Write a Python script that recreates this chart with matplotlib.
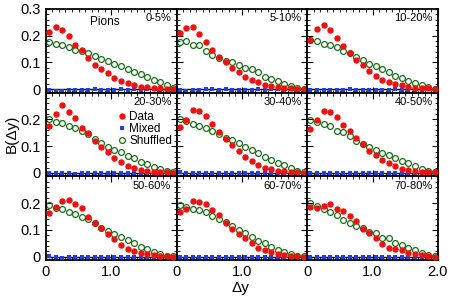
import numpy as np
import matplotlib.pyplot as plt
from matplotlib.ticker import MultipleLocator, FixedLocator, FixedFormatter

plt.rcParams['font.family'] = ['Liberation Sans', 'DejaVu Sans']

dy = [0.05, 0.15, 0.25, 0.35, 0.45, 0.55, 0.65, 0.75, 0.85, 0.95,
      1.05, 1.15, 1.25, 1.35, 1.45, 1.55, 1.65, 1.75, 1.85, 1.95]

labels = ["0-5%", "5-10%", "10-20%", "20-30%", "30-40%", "40-50%",
          "50-60%", "60-70%", "70-80%"]

data = [
    [0.214, 0.232, 0.222, 0.197, 0.167, 0.145, 0.117, 0.092, 0.076, 0.060,
     0.041, 0.029, 0.024, 0.015, 0.010, 0.007, 0.005, 0.004, 0.001, 0.001],
    [0.210, 0.229, 0.232, 0.207, 0.176, 0.147, 0.122, 0.101, 0.079, 0.066,
     0.045, 0.035, 0.026, 0.017, 0.011, 0.007, 0.006, 0.005, 0.002, 0.001],
    [0.185, 0.226, 0.241, 0.220, 0.192, 0.161, 0.135, 0.110, 0.089, 0.067,
     0.049, 0.035, 0.026, 0.020, 0.014, 0.010, 0.006, 0.005, 0.004, 0.002],
    [0.174, 0.219, 0.253, 0.227, 0.204, 0.169, 0.151, 0.119, 0.096, 0.078,
     0.055, 0.040, 0.027, 0.018, 0.012, 0.008, 0.005, 0.004, 0.003, 0.001],
    [0.171, 0.198, 0.236, 0.231, 0.214, 0.184, 0.154, 0.126, 0.106, 0.081,
     0.060, 0.044, 0.029, 0.020, 0.013, 0.009, 0.006, 0.005, 0.003, 0.001],
    [0.165, 0.197, 0.232, 0.226, 0.210, 0.181, 0.155, 0.132, 0.110, 0.083,
     0.068, 0.048, 0.038, 0.025, 0.016, 0.012, 0.006, 0.005, 0.004, 0.003],
    [0.164, 0.185, 0.209, 0.213, 0.197, 0.181, 0.149, 0.127, 0.107, 0.085,
     0.065, 0.043, 0.030, 0.022, 0.015, 0.009, 0.005, 0.003, 0.001, 0.000],
    [0.168, 0.179, 0.208, 0.205, 0.198, 0.175, 0.155, 0.127, 0.104, 0.086,
     0.069, 0.052, 0.034, 0.024, 0.018, 0.011, 0.008, 0.004, 0.001, 0.000],
    [0.186, 0.183, 0.190, 0.197, 0.180, 0.171, 0.152, 0.132, 0.103, 0.090,
     0.069, 0.047, 0.034, 0.028, 0.024, 0.015, 0.009, 0.005, 0.001, 0.000],
]

shuffled = [
    [0.176, 0.170, 0.164, 0.158, 0.148, 0.142, 0.135, 0.124, 0.114, 0.104,
     0.095, 0.086, 0.076, 0.066, 0.055, 0.045, 0.035, 0.026, 0.014, 0.005],
    [0.176, 0.182, 0.166, 0.164, 0.141, 0.129, 0.117, 0.107, 0.101, 0.092,
     0.079, 0.074, 0.064, 0.047, 0.037, 0.029, 0.020, 0.011, 0.005, 0.001],
    [0.185, 0.180, 0.170, 0.166, 0.157, 0.142, 0.135, 0.122, 0.110, 0.095,
     0.085, 0.076, 0.064, 0.051, 0.042, 0.032, 0.022, 0.014, 0.007, 0.002],
    [0.200, 0.191, 0.187, 0.175, 0.168, 0.158, 0.145, 0.126, 0.113, 0.097,
     0.087, 0.077, 0.065, 0.055, 0.042, 0.032, 0.022, 0.013, 0.006, 0.003],
    [0.200, 0.195, 0.184, 0.174, 0.168, 0.155, 0.145, 0.132, 0.123, 0.113,
     0.097, 0.087, 0.074, 0.061, 0.048, 0.038, 0.029, 0.018, 0.009, 0.003],
    [0.197, 0.191, 0.182, 0.174, 0.156, 0.152, 0.139, 0.119, 0.109, 0.097,
     0.087, 0.074, 0.068, 0.055, 0.045, 0.038, 0.025, 0.016, 0.006, 0.003],
    [0.192, 0.183, 0.177, 0.168, 0.158, 0.149, 0.139, 0.126, 0.107, 0.097,
     0.085, 0.075, 0.062, 0.050, 0.037, 0.027, 0.017, 0.009, 0.004, 0.001],
    [0.193, 0.187, 0.179, 0.173, 0.166, 0.152, 0.141, 0.129, 0.113, 0.101,
     0.088, 0.075, 0.059, 0.050, 0.037, 0.024, 0.018, 0.009, 0.004, 0.001],
    [0.199, 0.190, 0.177, 0.167, 0.154, 0.136, 0.126, 0.113, 0.107, 0.094,
     0.088, 0.069, 0.069, 0.050, 0.043, 0.031, 0.024, 0.014, 0.005, 0.001],
]

mixed = [
    [-0.004, -0.007, -0.006, -0.002, -0.004, -0.003, -0.003, -0.001, -0.002, -0.002,
     -0.002, -0.001, -0.002, -0.001, -0.002, -0.001, -0.001, -0.002, -0.001, -0.001],
    [-0.004, -0.006, -0.004, -0.004, -0.001, -0.001, -0.002, -0.001, -0.002, -0.002,
     -0.002, -0.002, -0.001, -0.002, -0.001, -0.001, -0.002, -0.001, -0.001, -0.001],
    [-0.004, -0.002, -0.004, -0.002, -0.002, -0.003, -0.001, -0.003, -0.002, -0.002,
     -0.002, -0.002, -0.002, -0.001, -0.002, -0.002, -0.002, -0.002, -0.001, -0.001],
    [-0.001, -0.001, -0.001, -0.001, -0.004, -0.001, -0.001, -0.001, -0.001, -0.001,
     -0.001, -0.001, -0.001, -0.001, -0.001, -0.001, -0.001, -0.001, -0.001, -0.001],
    [0.002, -0.001, -0.002, -0.001, -0.002, -0.001, -0.002, -0.001, -0.001, -0.001,
     -0.001, -0.001, -0.002, -0.001, -0.001, -0.001, -0.001, -0.001, -0.001, -0.001],
    [-0.001, 0.000, 0.000, 0.001, 0.000, -0.001, 0.000, -0.001, -0.001, -0.001,
     -0.001, -0.001, -0.001, -0.001, -0.001, -0.001, -0.001, -0.001, -0.001, -0.001],
    [0.003, -0.003, -0.004, -0.001, -0.001, -0.001, -0.001, -0.001, -0.001, 0.000,
     -0.001, -0.001, -0.001, -0.001, -0.001, -0.001, -0.001, -0.001, -0.001, -0.001],
    [0.000, -0.001, -0.001, -0.001, -0.001, 0.000, -0.001, -0.001, -0.001, -0.001,
     0.000, -0.001, -0.001, -0.001, -0.001, -0.001, 0.000, -0.001, -0.001, -0.001],
    [0.000, -0.002, -0.001, -0.002, -0.002, -0.003, -0.001, -0.002, -0.001, -0.002,
     -0.002, -0.001, -0.002, -0.001, -0.002, -0.001, -0.002, -0.001, -0.001, -0.001],
]

fig, axs = plt.subplots(3, 3, figsize=(4.5, 2.98), dpi=100)
fig.subplots_adjust(left=0.102, right=0.973, top=0.970, bottom=0.127,
                    wspace=0, hspace=0)

for k, ax in enumerate(axs.flat):
    r, c = divmod(k, 3)
    ax.axhline(0, color='k', lw=1.0, zorder=1)
    ax.plot(dy, shuffled[k], 'o', mfc='none', mec='#1a6e1a', mew=0.9, ms=4.2,
            label='Shuffled', zorder=2)
    ax.plot(dy, mixed[k], 's', color='#1f3fe0', ms=2.6, mew=0, label='Mixed', zorder=3)
    ax.plot(dy, data[k], 'o', color='#f01010', ms=4.6, mew=0, label='Data', zorder=4)
    ax.set_xlim(0, 2.0)
    ax.set_ylim(-0.013, 0.3)
    for s in ax.spines.values():
        s.set_linewidth(1.3)
    ax.yaxis.set_major_locator(FixedLocator([0, 0.1, 0.2, 0.3]))
    ax.yaxis.set_minor_locator(MultipleLocator(0.02))
    ax.xaxis.set_major_locator(FixedLocator([0, 1.0, 2.0]))
    ax.xaxis.set_minor_locator(MultipleLocator(0.1))
    ax.tick_params(which='both', direction='in', top=True, right=True, labelsize=10.5)
    ax.tick_params(which='major', length=4, width=0.8)
    ax.tick_params(which='minor', length=2, width=0.6)
    if c == 0:
        yl = ['0', '0.1', '0.2', '0.3' if r == 0 else '']
        ax.yaxis.set_major_formatter(FixedFormatter(yl))
    else:
        ax.set_yticklabels([])
    if r == 2:
        xl = ['0', '1.0', '2.0' if c == 2 else '']
        ax.xaxis.set_major_formatter(FixedFormatter(xl))
    else:
        ax.set_xticklabels([])
    ax.text(0.96, 0.95, labels[k], transform=ax.transAxes, ha='right', va='top',
            fontsize=8)

axs[0, 0].text(0.45, 0.84, 'Pions', transform=axs[0, 0].transAxes, ha='center',
               va='center', fontsize=8.5)

h, l = axs[1, 0].get_legend_handles_labels()
axs[1, 0].legend([h[2], h[1], h[0]], [l[2], l[1], l[0]], loc='upper right',
                 bbox_to_anchor=(1.03, 0.88), frameon=False, fontsize=8.5,
                 handletextpad=0.1, labelspacing=0.0, handlelength=1.0,
                 borderpad=0.2)

fig.text(0.025, 0.55, 'B(\u0394y)', rotation=90, ha='center', va='center',
         fontsize=11)
fig.text(0.535, 0.035, '\u0394y', ha='center', va='center', fontsize=11)

fig.savefig('out.png', dpi=100)
